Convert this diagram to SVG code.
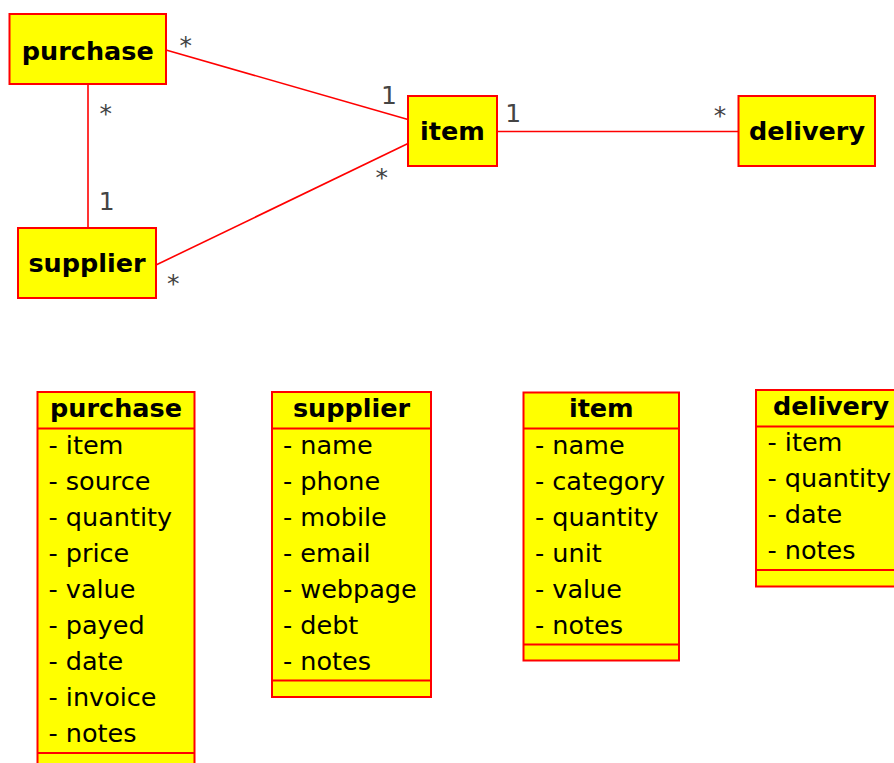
<svg xmlns="http://www.w3.org/2000/svg" width="894" height="763" viewBox="0 0 894 763">
<style>
.box{fill:#ffff00;stroke:#ff0000;stroke-width:2}
.sep{stroke:#ff0000;stroke-width:2;fill:none}
.edge{stroke:#ff0000;stroke-width:1.6;fill:none}
.t{font-family:"DejaVu Sans",sans-serif;font-size:25.5px;font-weight:bold;fill:#000;text-anchor:middle}
.a{font-family:"DejaVu Sans",sans-serif;font-size:25.5px;fill:#000}
.m{font-family:"DejaVu Sans",sans-serif;font-size:25px;fill:#444;text-anchor:middle}
</style>
<rect width="894" height="763" fill="#fff"/>
<g id="connectors">
<line class="edge" x1="166" y1="50" x2="408" y2="119.5"/>
<line class="edge" x1="156" y1="265" x2="408" y2="143.5"/>
<line class="edge" x1="88" y1="84" x2="88" y2="228"/>
<line class="edge" x1="497" y1="131.5" x2="738.5" y2="131.5"/>
<text class="m" x="185.7" y="54">*</text>
<text class="m" x="389" y="103.5">1</text>
<text class="m" x="105.7" y="122">*</text>
<text class="m" x="106.7" y="210">1</text>
<text class="m" x="173.3" y="292">*</text>
<text class="m" x="381.7" y="185.5">*</text>
<text class="m" x="513.3" y="121.5">1</text>
<text class="m" x="720" y="124">*</text>
</g>
<g id="purchase">
<rect class="box" x="9.5" y="14" width="156.5" height="70"/>
<text class="t" x="87.8" y="60">purchase</text>
</g>
<g id="supplier">
<rect class="box" x="18" y="228" width="138" height="70"/>
<text class="t" x="87" y="271.5">supplier</text>
</g>
<g id="item">
<rect class="box" x="408" y="96" width="89" height="70"/>
<text class="t" x="452.5" y="140">item</text>
</g>
<g id="delivery">
<rect class="box" x="738.5" y="96" width="136.5" height="70"/>
<text class="t" x="807" y="140">delivery</text>
</g>
<g id="purchase-class">
<rect class="box" x="37.5" y="392" width="157" height="390"/>
<line class="sep" x1="37.5" y1="428.5" x2="194.5" y2="428.5"/>
<line class="sep" x1="37.5" y1="753" x2="194.5" y2="753"/>
<text class="t" x="116" y="417">purchase</text>
<text class="a" x="48.5" y="454">- item</text>
<text class="a" x="48.5" y="490">- source</text>
<text class="a" x="48.5" y="526">- quantity</text>
<text class="a" x="48.5" y="562">- price</text>
<text class="a" x="48.5" y="598">- value</text>
<text class="a" x="48.5" y="634">- payed</text>
<text class="a" x="48.5" y="670">- date</text>
<text class="a" x="48.5" y="706">- invoice</text>
<text class="a" x="48.5" y="742">- notes</text>
</g>
<g id="supplier-class">
<rect class="box" x="272" y="392" width="159" height="305"/>
<line class="sep" x1="272" y1="428.5" x2="431" y2="428.5"/>
<line class="sep" x1="272" y1="680.5" x2="431" y2="680.5"/>
<text class="t" x="351.5" y="417">supplier</text>
<text class="a" x="283" y="454">- name</text>
<text class="a" x="283" y="490">- phone</text>
<text class="a" x="283" y="526">- mobile</text>
<text class="a" x="283" y="562">- email</text>
<text class="a" x="283" y="598">- webpage</text>
<text class="a" x="283" y="634">- debt</text>
<text class="a" x="283" y="670">- notes</text>
</g>
<g id="item-class">
<rect class="box" x="523.5" y="392.5" width="155.5" height="268"/>
<line class="sep" x1="523.5" y1="428.5" x2="679" y2="428.5"/>
<line class="sep" x1="523.5" y1="644.5" x2="679" y2="644.5"/>
<text class="t" x="601.3" y="417">item</text>
<text class="a" x="535" y="454">- name</text>
<text class="a" x="535" y="490">- category</text>
<text class="a" x="535" y="526">- quantity</text>
<text class="a" x="535" y="562">- unit</text>
<text class="a" x="535" y="598">- value</text>
<text class="a" x="535" y="634">- notes</text>
</g>
<g id="delivery-class">
<rect class="box" x="756" y="390" width="160" height="196.5"/>
<line class="sep" x1="756" y1="426.5" x2="916" y2="426.5"/>
<line class="sep" x1="756" y1="570" x2="916" y2="570"/>
<text class="t" x="831" y="415">delivery</text>
<text class="a" x="767.5" y="451">- item</text>
<text class="a" x="767.5" y="487">- quantity</text>
<text class="a" x="767.5" y="523">- date</text>
<text class="a" x="767.5" y="559">- notes</text>
</g>
</svg>
